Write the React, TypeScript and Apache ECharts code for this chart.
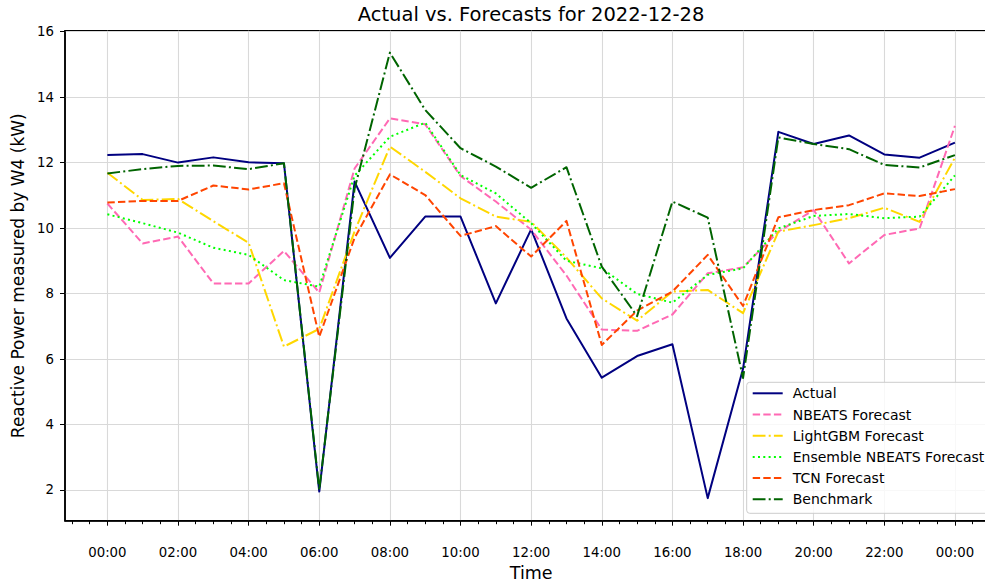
import React, { useEffect, useRef } from "react";
import * as echarts from "echarts";

const titleText = "Actual vs. Forecasts for 2022-12-28";
const xAxisTitle = "Time";
const yAxisTitle = "Reactive Power measured by W4 (kW)";

const hours = [0, 1, 2, 3, 4, 5, 6, 7, 8, 9, 10, 11, 12, 13, 14, 15, 16, 17, 18, 19, 20, 21, 22, 23, 24];

const actual = [12.23, 12.26, 12.0, 12.16, 12.01, 11.98, 1.95, 11.42, 9.09, 10.35, 10.35, 7.7, 9.96, 7.24, 5.43, 6.09, 6.45, 1.75, 5.7, 12.94, 12.57, 12.83, 12.25, 12.15, 12.61];
const nbeats = [10.75, 9.53, 9.74, 8.31, 8.31, 9.3, 8.03, 11.82, 13.35, 13.17, 11.59, 10.81, 9.95, 8.55, 6.9, 6.86, 7.36, 8.62, 8.8, 9.89, 10.55, 8.92, 9.79, 9.99, 13.12];
const lightgbm = [11.69, 10.86, 10.89, 10.21, 9.55, 6.38, 6.92, 9.9, 12.49, 11.72, 10.91, 10.35, 10.19, 9.1, 7.85, 7.17, 8.06, 8.11, 7.4, 9.89, 10.09, 10.3, 10.62, 10.19, 12.15];
const ensemble = [10.42, 10.15, 9.86, 9.4, 9.18, 8.41, 8.21, 11.6, 12.79, 13.22, 11.62, 11.06, 10.15, 9.0, 8.77, 7.99, 7.72, 8.57, 8.77, 9.99, 10.37, 10.43, 10.3, 10.35, 11.61];
const tcn = [10.78, 10.83, 10.83, 11.3, 11.18, 11.37, 6.68, 9.7, 11.64, 11.01, 9.76, 10.06, 9.13, 10.22, 6.43, 7.48, 8.06, 9.18, 7.62, 10.33, 10.55, 10.7, 11.06, 10.98, 11.19];
const benchmark = [11.67, 11.8, 11.9, 11.91, 11.8, 11.98, 2.0, 11.2, 15.36, 13.61, 12.44, 11.88, 11.23, 11.86, 8.82, 7.31, 10.81, 10.32, 5.42, 12.77, 12.57, 12.41, 11.93, 11.85, 12.23];

const majorHourTicks = [0, 2, 4, 6, 8, 10, 12, 14, 16, 18, 20, 22, 24];
const yTicks = [2, 4, 6, 8, 10, 12, 14, 16];

const seriesNames = [
  "Actual",
  "NBEATS Forecast",
  "LightGBM Forecast",
  "Ensemble NBEATS Forecast",
  "TCN Forecast",
  "Benchmark",
];
const seriesValues = [actual, nbeats, lightgbm, ensemble, tcn, benchmark];
const seriesColors = ["#000080", "#ff69b4", "#ffd700", "#00ff00", "#ff4500", "#006400"];
const dashed = [7.4, 3.2];
const dashdot = [12.8, 3.2, 2, 3.2];
const dotted = [2, 3.3];
const seriesDash: any[] = ["solid", dashed, dashdot, dotted, dashed, dashdot];

const FONT = "DejaVu Sans";

export default function App() {
  const ref = useRef<HTMLDivElement>(null);
  useEffect(() => {
    if (!ref.current) return;
    const chart = echarts.init(ref.current, null, { renderer: "svg" });
    const minorTicks: number[] = [];
    for (let v = -1; v <= 25; v += 0.5) minorTicks.push(v);
    const pad = (n: number) => (n < 10 ? "0" + n : "" + n);
    const option: any = {
      animation: false,
      backgroundColor: "#ffffff",
      textStyle: { fontFamily: FONT },
      graphic: [
        {
          type: "text",
          x: 531,
          y: 4.7,
          style: {
            text: titleText,
            fontSize: 19.5,
            fontFamily: FONT,
            fill: "#000",
            textAlign: "center",
            textVerticalAlign: "top",
          },
        },
      ],
      grid: {
        left: 65,
        top: 30.7,
        right: -12.3,
        bottom: 62.3,
        show: true,
        borderColor: "#000",
        borderWidth: 1.5,
        backgroundColor: "transparent",
        outerBoundsMode: "none",
        containLabel: false,
      },
      legend: {
        orient: "vertical",
        left: 746.7,
        top: 382.3,
        itemWidth: 30,
        itemHeight: 14,
        itemGap: 7.2,
        padding: [4, 8, 7, 5],
        backgroundColor: "rgba(255,255,255,0.8)",
        borderColor: "#cccccc",
        borderWidth: 1,
        borderRadius: 3,
        itemStyle: { opacity: 0 },
        textStyle: { fontSize: 14, color: "#000", fontFamily: FONT, padding: [0, 0, 0, 5] },
        data: seriesNames,
      },
      xAxis: [
        {
          type: "value",
          min: -1.2,
          max: 25.2,
          position: "bottom",
          name: xAxisTitle,
          nameLocation: "middle",
          nameGap: 43.5,
          nameTextStyle: { fontSize: 17.5, color: "#000", fontFamily: FONT },
          axisLine: { show: true, onZero: false, lineStyle: { color: "#000", width: 1.5 } },
          axisTick: { show: true, customValues: majorHourTicks, length: 5, lineStyle: { color: "#000", width: 1 } },
          axisLabel: {
            customValues: majorHourTicks,
            formatter: (v: number) => pad(Math.round(v) % 24) + ":00",
            margin: 25,
            fontSize: 13.3,
            color: "#000",
            fontFamily: FONT,
          },
          splitLine: { show: true, lineStyle: { color: "#d9d9d9", width: 1.1 } },
        },
        {
          type: "value",
          min: -1.2,
          max: 25.2,
          position: "bottom",
          axisLine: { show: false },
          axisTick: { show: true, customValues: minorTicks, length: 3.5, lineStyle: { color: "#000", width: 1 } },
          axisLabel: { show: false },
          splitLine: { show: false },
        },
      ],
      yAxis: {
        type: "value",
        min: 1.06,
        max: 16.03,
        name: yAxisTitle,
        nameLocation: "middle",
        nameGap: 36.5,
        nameTextStyle: { fontSize: 17, color: "#000", fontFamily: FONT },
        axisLine: { show: true, onZero: false, lineStyle: { color: "#000", width: 1.5 } },
        axisTick: { show: true, customValues: yTicks, length: 5, lineStyle: { color: "#000", width: 1 } },
        axisLabel: {
          customValues: yTicks,
          margin: 11,
          fontSize: 13.3,
          color: "#000",
          fontFamily: FONT,
          formatter: (v: number) => String(Math.round(v)),
        },
        splitLine: { show: true, lineStyle: { color: "#d9d9d9", width: 1.1 } },
      },
      series: seriesNames.map((name, i) => ({
        name,
        type: "line",
        xAxisIndex: 0,
        symbol: "none",
        showSymbol: false,
        data: hours.map((h, j) => [h, seriesValues[i][j]]),
        itemStyle: { color: seriesColors[i] },
        lineStyle: { color: seriesColors[i], width: 2, type: seriesDash[i], join: "round" },
        z: 2 + i,
      })),
    };
    chart.setOption(option);
    return () => chart.dispose();
  }, []);
  return (
    <div
      ref={ref}
      style={{ position: "fixed", left: 0, top: 0, width: 985, height: 583, background: "#fff" }}
    />
  );
}
